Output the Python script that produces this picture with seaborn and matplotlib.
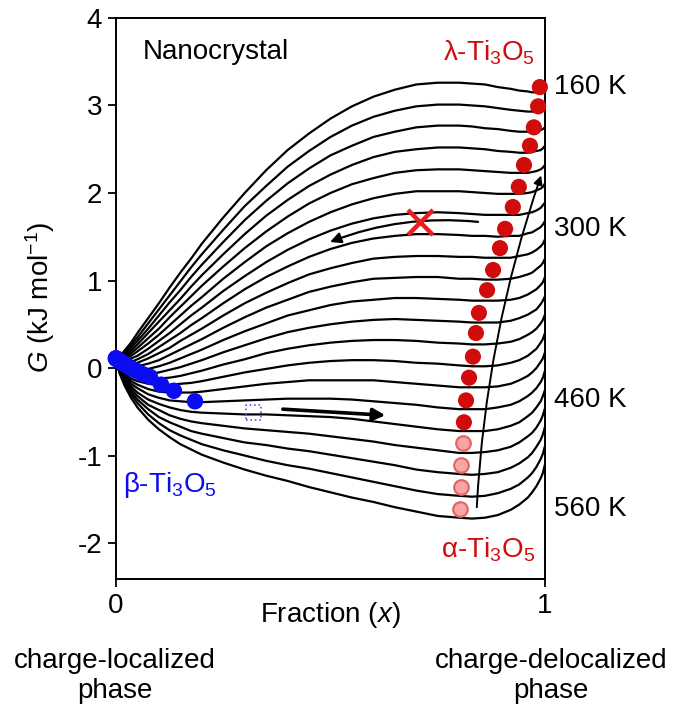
import pandas as pd
import matplotlib
matplotlib.use('Agg')
import matplotlib.pyplot as plt
import seaborn as sns

# temperatures of the free-energy curves (K)
temps_K = [160, 180, 200, 220, 240, 260, 280, 300, 320, 340, 360,
           380, 400, 420, 440, 460, 480, 500, 520, 540, 560]
frac_x = [0, 0.005, 0.01, 0.02, 0.035, 0.05, 0.075, 0.1, 0.125, 0.15, 0.175, 0.2, 0.25, 0.3, 0.35,
          0.4, 0.45, 0.5, 0.55, 0.6, 0.65, 0.7, 0.75, 0.8, 0.83, 0.86, 0.89, 0.92, 0.94, 0.96,
          0.97, 0.98, 0.99, 0.995, 1.0]
# G (kJ/mol) of every curve at frac_x, one row per temperature
g_curves = [
    [0.10, 0.12, 0.14, 0.20, 0.29, 0.40, 0.57, 0.74, 0.92, 1.09, 1.25, 1.42, 1.72, 2.00, 2.26, 2.49, 2.68, 2.85, 2.99, 3.10, 3.18, 3.24, 3.26, 3.26, 3.25, 3.24, 3.21, 3.19, 3.17, 3.16, 3.15, 3.15, 3.16, 3.16, 3.18],
    [0.10, 0.11, 0.13, 0.18, 0.26, 0.35, 0.51, 0.67, 0.83, 0.99, 1.15, 1.30, 1.58, 1.85, 2.08, 2.30, 2.48, 2.64, 2.77, 2.87, 2.94, 2.99, 3.01, 3.01, 3.00, 2.99, 2.97, 2.95, 2.94, 2.93, 2.93, 2.93, 2.94, 2.95, 2.96],
    [0.10, 0.10, 0.12, 0.16, 0.23, 0.31, 0.45, 0.60, 0.75, 0.89, 1.04, 1.18, 1.44, 1.69, 1.91, 2.11, 2.28, 2.43, 2.54, 2.64, 2.70, 2.75, 2.77, 2.77, 2.76, 2.74, 2.73, 2.71, 2.70, 2.70, 2.70, 2.70, 2.72, 2.73, 2.75],
    [0.10, 0.10, 0.11, 0.14, 0.20, 0.27, 0.40, 0.53, 0.66, 0.79, 0.93, 1.06, 1.30, 1.53, 1.74, 1.92, 2.08, 2.21, 2.32, 2.41, 2.47, 2.50, 2.52, 2.52, 2.51, 2.50, 2.48, 2.47, 2.46, 2.46, 2.47, 2.48, 2.49, 2.51, 2.54],
    [0.10, 0.09, 0.10, 0.12, 0.17, 0.23, 0.34, 0.45, 0.58, 0.70, 0.82, 0.94, 1.16, 1.37, 1.56, 1.73, 1.88, 2.00, 2.10, 2.17, 2.23, 2.26, 2.27, 2.27, 2.26, 2.25, 2.24, 2.23, 2.23, 2.23, 2.24, 2.25, 2.27, 2.29, 2.32],
    [0.10, 0.09, 0.09, 0.10, 0.14, 0.19, 0.28, 0.38, 0.49, 0.60, 0.71, 0.81, 1.02, 1.21, 1.39, 1.54, 1.67, 1.78, 1.87, 1.94, 1.99, 2.02, 2.02, 2.02, 2.01, 2.00, 1.99, 1.99, 1.99, 2.00, 2.01, 2.03, 2.05, 2.07, 2.11],
    [0.10, 0.08, 0.07, 0.08, 0.11, 0.14, 0.22, 0.31, 0.40, 0.50, 0.60, 0.69, 0.88, 1.05, 1.21, 1.35, 1.47, 1.57, 1.65, 1.71, 1.75, 1.77, 1.78, 1.77, 1.76, 1.75, 1.75, 1.75, 1.75, 1.77, 1.78, 1.80, 1.83, 1.86, 1.89],
    [0.10, 0.07, 0.06, 0.06, 0.07, 0.10, 0.16, 0.24, 0.32, 0.40, 0.49, 0.57, 0.74, 0.90, 1.04, 1.16, 1.27, 1.36, 1.43, 1.48, 1.51, 1.53, 1.53, 1.52, 1.51, 1.51, 1.50, 1.51, 1.51, 1.54, 1.55, 1.58, 1.61, 1.64, 1.68],
    [0.10, 0.07, 0.05, 0.04, 0.04, 0.06, 0.11, 0.17, 0.23, 0.31, 0.38, 0.45, 0.60, 0.74, 0.86, 0.97, 1.07, 1.14, 1.20, 1.25, 1.27, 1.28, 1.28, 1.27, 1.27, 1.26, 1.26, 1.26, 1.28, 1.30, 1.32, 1.35, 1.39, 1.42, 1.47],
    [0.10, 0.06, 0.04, 0.02, 0.01, 0.02, 0.05, 0.09, 0.15, 0.21, 0.27, 0.33, 0.46, 0.58, 0.69, 0.78, 0.87, 0.93, 0.98, 1.02, 1.03, 1.04, 1.04, 1.02, 1.02, 1.01, 1.01, 1.02, 1.04, 1.07, 1.09, 1.13, 1.17, 1.20, 1.25],
    [0.10, 0.06, 0.03, 0.00, -0.02, -0.02, -0.01, 0.02, 0.06, 0.11, 0.16, 0.21, 0.32, 0.42, 0.51, 0.60, 0.66, 0.72, 0.76, 0.78, 0.80, 0.80, 0.79, 0.78, 0.77, 0.77, 0.77, 0.78, 0.80, 0.84, 0.87, 0.90, 0.95, 0.98, 1.04],
    [0.10, 0.05, 0.02, -0.02, -0.05, -0.07, -0.07, -0.05, -0.02, 0.01, 0.05, 0.09, 0.18, 0.26, 0.34, 0.41, 0.46, 0.50, 0.53, 0.55, 0.56, 0.55, 0.54, 0.53, 0.52, 0.52, 0.52, 0.54, 0.57, 0.61, 0.64, 0.67, 0.73, 0.77, 0.82],
    [0.10, 0.04, 0.01, -0.04, -0.08, -0.11, -0.13, -0.12, -0.11, -0.09, -0.06, -0.03, 0.04, 0.10, 0.17, 0.22, 0.26, 0.29, 0.31, 0.32, 0.32, 0.31, 0.29, 0.28, 0.27, 0.27, 0.28, 0.30, 0.33, 0.38, 0.41, 0.45, 0.51, 0.55, 0.61],
    [0.10, 0.04, 0.00, -0.06, -0.12, -0.15, -0.18, -0.20, -0.19, -0.18, -0.17, -0.15, -0.10, -0.05, -0.01, 0.03, 0.06, 0.08, 0.09, 0.09, 0.08, 0.06, 0.05, 0.03, 0.02, 0.02, 0.03, 0.06, 0.09, 0.14, 0.18, 0.22, 0.29, 0.33, 0.40],
    [0.10, 0.03, -0.01, -0.08, -0.15, -0.19, -0.24, -0.27, -0.28, -0.28, -0.28, -0.27, -0.24, -0.21, -0.18, -0.16, -0.14, -0.14, -0.14, -0.14, -0.16, -0.18, -0.20, -0.22, -0.22, -0.22, -0.21, -0.18, -0.14, -0.09, -0.05, 0.00, 0.07, 0.11, 0.18],
    [0.10, 0.02, -0.03, -0.10, -0.18, -0.23, -0.30, -0.34, -0.37, -0.38, -0.39, -0.39, -0.38, -0.37, -0.36, -0.35, -0.35, -0.35, -0.36, -0.38, -0.40, -0.42, -0.45, -0.47, -0.47, -0.47, -0.45, -0.42, -0.38, -0.32, -0.28, -0.23, -0.16, -0.11, -0.03],
    [0.10, 0.02, -0.04, -0.12, -0.21, -0.28, -0.36, -0.41, -0.45, -0.48, -0.50, -0.51, -0.52, -0.53, -0.53, -0.54, -0.55, -0.56, -0.58, -0.61, -0.64, -0.67, -0.70, -0.72, -0.72, -0.72, -0.70, -0.66, -0.62, -0.55, -0.51, -0.45, -0.38, -0.32, -0.25],
    [0.10, 0.01, -0.05, -0.14, -0.24, -0.32, -0.42, -0.48, -0.54, -0.58, -0.61, -0.63, -0.66, -0.69, -0.71, -0.73, -0.75, -0.78, -0.81, -0.84, -0.88, -0.91, -0.94, -0.97, -0.97, -0.96, -0.94, -0.90, -0.85, -0.78, -0.74, -0.68, -0.60, -0.54, -0.46],
    [0.10, 0.01, -0.06, -0.16, -0.27, -0.36, -0.47, -0.56, -0.62, -0.67, -0.72, -0.75, -0.80, -0.85, -0.88, -0.92, -0.95, -0.99, -1.03, -1.07, -1.11, -1.16, -1.19, -1.21, -1.22, -1.21, -1.19, -1.14, -1.09, -1.02, -0.97, -0.90, -0.82, -0.76, -0.67],
    [0.10, 0.00, -0.07, -0.18, -0.30, -0.40, -0.53, -0.63, -0.71, -0.77, -0.82, -0.87, -0.94, -1.00, -1.06, -1.11, -1.15, -1.20, -1.25, -1.30, -1.35, -1.40, -1.44, -1.46, -1.47, -1.46, -1.43, -1.38, -1.33, -1.25, -1.20, -1.13, -1.04, -0.98, -0.89],
    [0.10, -0.01, -0.08, -0.20, -0.34, -0.45, -0.59, -0.70, -0.79, -0.87, -0.93, -0.99, -1.08, -1.16, -1.23, -1.29, -1.36, -1.42, -1.48, -1.53, -1.59, -1.64, -1.69, -1.71, -1.72, -1.71, -1.68, -1.62, -1.56, -1.48, -1.42, -1.35, -1.26, -1.20, -1.10],
]

# minima of the lambda/alpha phase (red) and beta phase (blue)
alpha_x = [0.988, 0.984, 0.974, 0.965, 0.951, 0.939, 0.925, 0.907, 0.895, 0.879, 0.865,
           0.846, 0.839, 0.832, 0.823, 0.816, 0.811, 0.809, 0.804, 0.804, 0.802]
alpha_g = [3.21, 2.99, 2.75, 2.54, 2.32, 2.07, 1.84, 1.59, 1.37, 1.12, 0.89,
           0.63, 0.40, 0.13, -0.11, -0.37, -0.62, -0.86, -1.11, -1.36, -1.61]
n_dark = 17  # last four dots are drawn pale
beta_x = [0.0, 0.0, 0.0, 0.003, 0.005, 0.008, 0.012, 0.018, 0.025, 0.035, 0.047, 0.062,
          0.079, 0.105, 0.135, 0.184]
beta_g = [0.11, 0.11, 0.11, 0.10, 0.09, 0.08, 0.07, 0.05, 0.03, 0.0, -0.03, -0.07,
          -0.10, -0.19, -0.26, -0.38]
vanish_pt = (0.32, -0.51)   # dotted square, beta minimum disappears
cross_pt = (0.709, 1.67)    # forbidden transition
labelled_T = [160, 300, 460, 560]

sns.set_style('ticks', {'axes.edgecolor': 'black', 'text.color': 'black',
                        'xtick.color': 'black', 'ytick.color': 'black'})
plt.rcParams['font.family'] = ['Liberation Sans', 'DejaVu Sans']
plt.rcParams['axes.unicode_minus'] = False
plt.rcParams['mathtext.fontset'] = 'custom'
plt.rcParams['mathtext.rm'] = 'Liberation Sans'
plt.rcParams['mathtext.it'] = 'Liberation Sans:italic'

fs = 20
red = '#d00c0c'
blue = '#0c0cf2'

fig = plt.figure(figsize=(6.76, 7.09), dpi=100)
ax = fig.add_axes([0.1716, 0.1834, 0.6346, 0.7913])

df = pd.DataFrame([(T, x, g) for T, row in zip(temps_K, g_curves) for x, g in zip(frac_x, row)],
                  columns=['T', 'x', 'G'])
sns.lineplot(data=df, x='x', y='G', units='T', estimator=None, sort=False,
             color='black', lw=1.6, legend=False, ax=ax)

sns.scatterplot(x=alpha_x[:n_dark], y=alpha_g[:n_dark], color=red, s=135,
                edgecolor='none', zorder=4, clip_on=False, ax=ax)
sns.scatterplot(x=alpha_x[n_dark:], y=alpha_g[n_dark:], color='#f6a6a6', s=110,
                edgecolor='#e46666', linewidth=1.6, zorder=4, clip_on=False, ax=ax)
sns.scatterplot(x=beta_x, y=beta_g, color=blue, s=140, edgecolor='none',
                zorder=4, clip_on=False, ax=ax)
ax.scatter([vanish_pt[0]], [vanish_pt[1]], marker='s', s=115, facecolors='none',
           edgecolors='#5a5ad0', linewidths=1.2, linestyles=':', zorder=4)
ax.plot([cross_pt[0]], [cross_pt[1]], marker='x', ms=18, mew=3.2, color='#ee1c1c', zorder=5)

# arrows
ax.annotate('', xy=(0.499, 1.44), xytext=(0.844, 1.67),
            arrowprops=dict(arrowstyle='-|>', color='black', lw=1.6, mutation_scale=16,
                            shrinkA=0, shrinkB=0, connectionstyle='arc3,rad=0.12'))
ax.annotate('', xy=(0.628, -0.54), xytext=(0.389, -0.47),
            arrowprops=dict(arrowstyle='-|>', color='black', lw=2.6, mutation_scale=18,
                            shrinkA=0, shrinkB=0))
ax.annotate('', xy=(0.991, 2.2), xytext=(0.841, -1.59),
            arrowprops=dict(arrowstyle='-|>', color='black', lw=1.4, mutation_scale=13,
                            shrinkA=0, shrinkB=0, connectionstyle='arc3,rad=-0.07'))

ax.text(0.063, 3.61, 'Nanocrystal', fontsize=fs, ha='left', va='center')
ax.text(0.977, 3.6, r'λ-Ti$_3$O$_5$', fontsize=fs, color=red, ha='right', va='center')
ax.text(0.016, -1.34, r'β-Ti$_3$O$_5$', fontsize=fs, color=blue, ha='left', va='center')
ax.text(0.977, -2.08, r'α-Ti$_3$O$_5$', fontsize=fs, color=red, ha='right', va='center')
for T in labelled_T:
    i = temps_K.index(T)
    ax.text(1.02, alpha_g[i], f'{T} K', fontsize=fs, ha='left', va='center', clip_on=False)

ax.set_xlim(0, 1)
ax.set_ylim(-2.41, 4)
ax.set_xticks([0, 1])
ax.set_xticklabels(['0', '1'])
ax.set_yticks([-2, -1, 0, 1, 2, 3, 4])
ax.tick_params(labelsize=fs, length=6, width=1.3, pad=4)
ax.set_xlabel('')
ax.set_ylabel('')
for s in ax.spines.values():
    s.set_linewidth(1.4)

fig.text(330 / 676, 1 - 615 / 709, r'Fraction ($\mathit{x}$)', fontsize=fs, ha='center', va='center')
fig.text(40 / 676, 1 - 297 / 709, r'$\mathit{G}$ (kJ mol$^{-1}$)', fontsize=fs,
         rotation=90, ha='center', va='center')
fig.text(115 / 676, 1 - 676 / 709, 'charge-localized\nphase', fontsize=fs,
         ha='center', va='center', linespacing=1.15)
fig.text(551 / 676, 1 - 676 / 709, 'charge-delocalized\nphase', fontsize=fs,
         ha='center', va='center', linespacing=1.15)

fig.savefig('out.png', dpi=100)
